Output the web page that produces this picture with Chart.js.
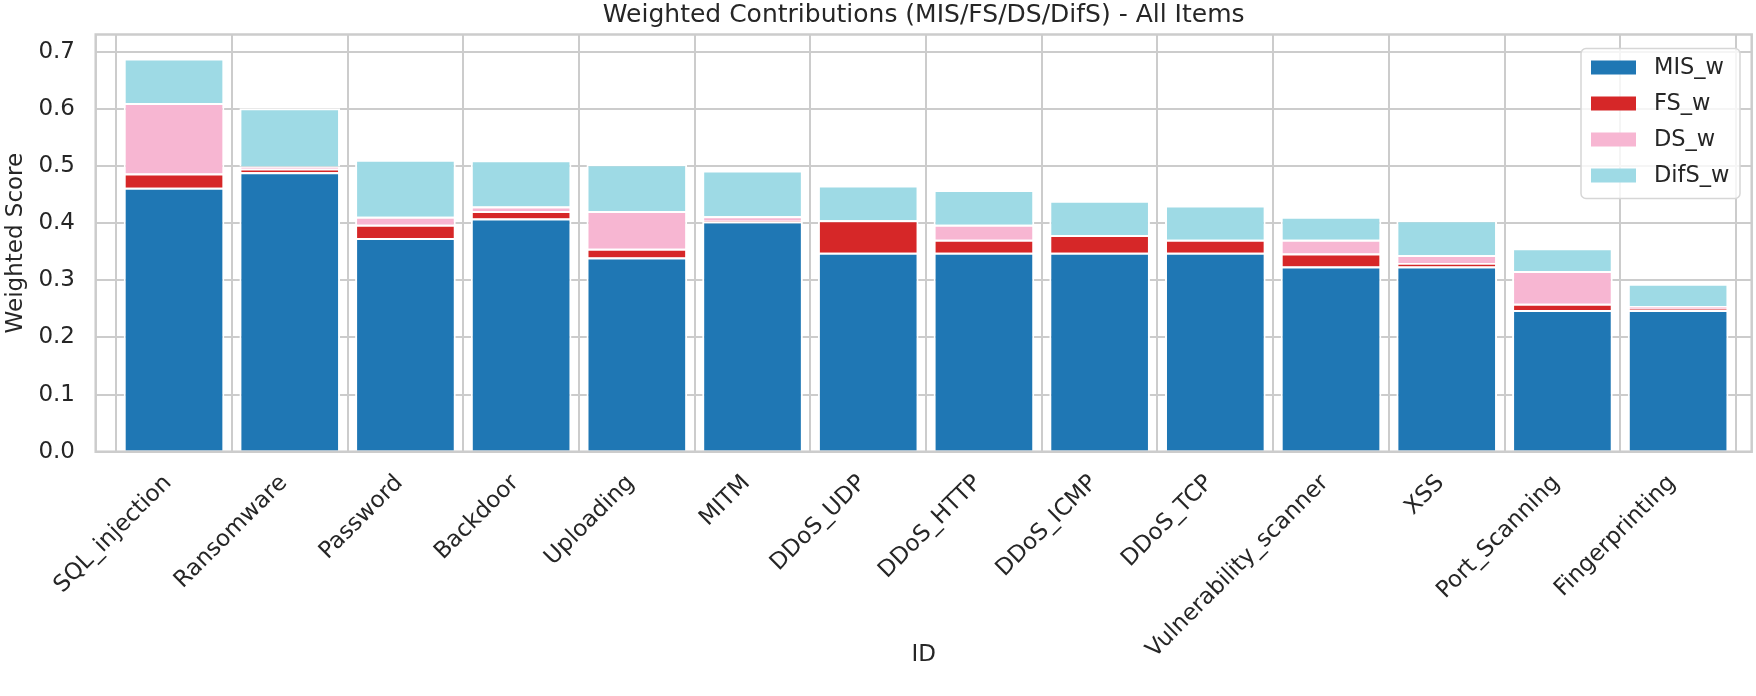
<!DOCTYPE html>
<html>
<head>
<meta charset="utf-8">
<script src="https://cdn.jsdelivr.net/npm/chart.js@4.4.1/dist/chart.umd.min.js"></script>
<style>
  html, body { margin: 0; padding: 0; background: #ffffff; overflow: hidden; }
</style>
</head>
<body>
<canvas id="chart" width="1756" height="696" style="display:block;width:1756px;height:696px"></canvas>
<script>
const categories = ['SQL_injection', 'Ransomware', 'Password', 'Backdoor', 'Uploading', 'MITM',
  'DDoS_UDP', 'DDoS_HTTP', 'DDoS_ICMP', 'DDoS_TCP', 'Vulnerability_scanner', 'XSS',
  'Port_Scanning', 'Fingerprinting'];

const misValues  = [0.462, 0.489, 0.374, 0.408, 0.340, 0.403, 0.348, 0.348, 0.348, 0.348, 0.324, 0.324, 0.248, 0.248];
const fsValues   = [0.025, 0.006, 0.023, 0.013, 0.015, 0.001, 0.057, 0.023, 0.031, 0.023, 0.023, 0.006, 0.011, 0.002];
const dsValues   = [0.123, 0.004, 0.014, 0.008, 0.066, 0.008, 0.000, 0.026, 0.000, 0.000, 0.024, 0.014, 0.057, 0.005];
const difsValues = [0.078, 0.102, 0.100, 0.081, 0.082, 0.080, 0.061, 0.061, 0.060, 0.060, 0.040, 0.061, 0.040, 0.039];

const seriesNames  = ['MIS_w', 'FS_w', 'DS_w', 'DifS_w'];
const seriesColors = ['#1f77b4', '#d62728', '#f7b6d2', '#9edae5'];
const yTicks = [0.0, 0.1, 0.2, 0.3, 0.4, 0.5, 0.6, 0.7];

const FONT = 'DejaVu Sans';
const TEXT = '#262626';
const GRID = '#cccccc';

const series = [misValues, fsValues, dsValues, difsValues];

// bars sit on a linear x axis so the side margins can be fractional
function points(values) {
  return values.map((v, i) => ({ x: i, y: v }));
}

// all four spines, light grey like the whitegrid style
const frame = {
  id: 'frame',
  afterDatasetsDraw(chart) {
    const { ctx, chartArea: a } = chart;
    ctx.save();
    ctx.strokeStyle = GRID;
    ctx.lineWidth = 2.5;
    ctx.strokeRect(a.left, a.top, a.right - a.left, a.bottom - a.top);
    ctx.restore();
  }
};

// legend drawn inside the plot, top right, with a rounded frame
const innerLegend = {
  id: 'innerLegend',
  afterDraw(chart) {
    const { ctx, chartArea: a } = chart;
    const x0 = a.right - 170.7, y0 = a.top + 14, w = 159, h = 150;
    ctx.save();
    ctx.beginPath();
    ctx.roundRect(x0, y0, w, h, 5);
    ctx.fillStyle = 'rgba(255,255,255,0.8)';
    ctx.fill();
    ctx.strokeStyle = '#d6d6d6';
    ctx.lineWidth = 1.5;
    ctx.stroke();
    ctx.font = '22.5px "' + FONT + '"';
    ctx.textBaseline = 'middle';
    chart.data.datasets.forEach((ds, k) => {
      const cy = y0 + 19 + k * 36;
      ctx.fillStyle = ds.backgroundColor;
      ctx.fillRect(x0 + 10, cy - 7, 45, 14);
      ctx.fillStyle = TEXT;
      ctx.fillText(ds.label, x0 + 73, cy + 1);
    });
    ctx.restore();
  }
};

new Chart(document.getElementById('chart'), {
  type: 'bar',
  data: {
    datasets: series.map((vals, k) => ({
      label: seriesNames[k],
      data: points(vals),
      backgroundColor: seriesColors[k],
      borderColor: '#ffffff',
      borderWidth: 2,
      barPercentage: 0.87,
      categoryPercentage: 1.0
    }))
  },
  options: {
    responsive: false,
    devicePixelRatio: 1,
    animation: false,
    layout: { padding: { left: 0, right: 4.3, top: 0, bottom: 0 } },
    scales: {
      x: {
        type: 'linear',
        stacked: true,
        min: -0.677,
        max: 13.636,
        offset: false,
        afterBuildTicks: s => { s.ticks = categories.map((c, i) => ({ value: i })); },
        afterFit: s => { s.height = 244.3; },
        grid: { color: GRID, lineWidth: 2, drawTicks: false },
        border: { display: false },
        ticks: {
          autoSkip: false,
          minRotation: 45,
          maxRotation: 45,
          padding: 18,
          labelOffset: -6,
          color: TEXT,
          font: { family: FONT, size: 23 },
          callback: v => categories[v]
        },
        title: {
          display: true,
          text: 'ID',
          color: TEXT,
          font: { family: FONT, size: 23 },
          padding: { top: 0, bottom: 27 }
        }
      },
      y: {
        stacked: true,
        min: 0,
        max: 0.73,
        afterBuildTicks: s => { s.ticks = yTicks.map(v => ({ value: v })); },
        afterFit: s => { s.width = 95.7; },
        grid: { color: GRID, lineWidth: 2, drawTicks: false },
        border: { display: false },
        ticks: {
          padding: 20.7,
          color: TEXT,
          font: { family: FONT, size: 23 },
          callback: v => v.toFixed(1)
        },
        title: {
          display: true,
          text: 'Weighted Score',
          color: TEXT,
          font: { family: FONT, size: 23 },
          padding: { top: 2, bottom: 0 }
        }
      }
    },
    plugins: {
      legend: { display: false },
      tooltip: { enabled: false },
      title: {
        display: true,
        text: 'Weighted Contributions (MIS/FS/DS/DifS) - All Items',
        fullSize: false,
        color: TEXT,
        font: { family: FONT, size: 25, weight: 'normal' },
        padding: { top: 0, bottom: 4.3 }
      }
    }
  },
  plugins: [frame, innerLegend]
});
</script>
</body>
</html>
